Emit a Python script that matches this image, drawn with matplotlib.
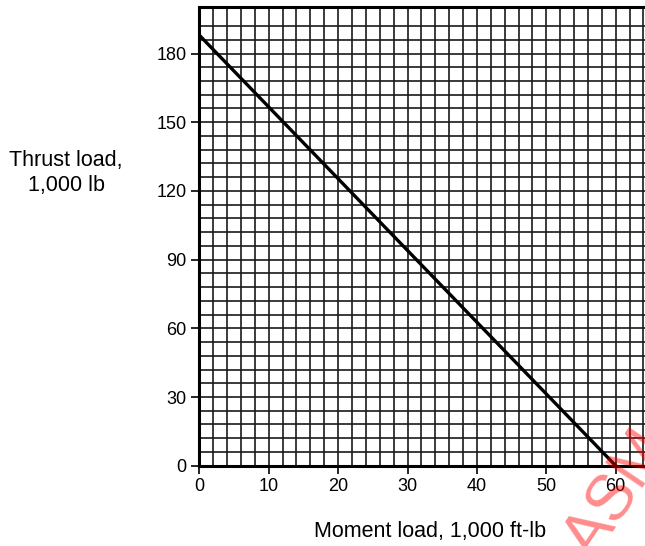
import matplotlib
matplotlib.use("Agg")
import matplotlib.pyplot as plt
import numpy as np

plt.rcParams['font.family'] = ['Liberation Sans', 'DejaVu Sans']

# Data
moment = [0, 60]          # 1,000 ft-lb
thrust = [188, 0]         # 1,000 lb
x_ticks = [0, 10, 20, 30, 40, 50, 60]
y_ticks = [0, 30, 60, 90, 120, 150, 180]
x_grid = list(range(2, 66, 2))
y_grid = list(range(6, 198, 6))

W, H = 645, 546
fig = plt.figure(figsize=(W / 100, H / 100), dpi=100)
x0_px, y0_px = 199.3, 465.7
sx, sy = 6.94, 2.29
xmax, ymax = 66, 200.3
left = x0_px / W
bottom = 1 - y0_px / H
width = xmax * sx / W
height = ymax * sy / H
ax = fig.add_axes([left, bottom, width, height])
ax.set_xlim(0, xmax)
ax.set_ylim(0, ymax)

for gx in x_grid:
    ax.axvline(gx, color='#1a1a1a', lw=1.2, zorder=1)
for gy in y_grid:
    ax.axhline(gy, color='#1a1a1a', lw=1.2, zorder=1)

ax.plot(moment, thrust, color='black', lw=2.4, zorder=3, solid_capstyle='butt')

ax.set_xticks(x_ticks)
ax.set_yticks(y_ticks)
ax.tick_params(axis='both', direction='out', length=6, width=1.2, labelsize=13, pad=3)
for s in ['left', 'bottom', 'top']:
    ax.spines[s].set_linewidth(2.2)
ax.spines['right'].set_visible(False)

fig.text(66 / W, 1 - 173 / H, "Thrust load,\n1,000 lb", ha='center', va='center',
         fontsize=15.5, linespacing=1.3)
fig.text(430 / W, 1 - 532 / H, "Moment load, 1,000 ft-lb", ha='center', va='center',
         fontsize=15.5)

fig.text(618 / W, 1 - 495 / H, "ASM", ha='center', va='center', fontsize=46,
         rotation=56, color='red', alpha=0.45, fontweight='normal')

fig.savefig("out.png", dpi=100)
